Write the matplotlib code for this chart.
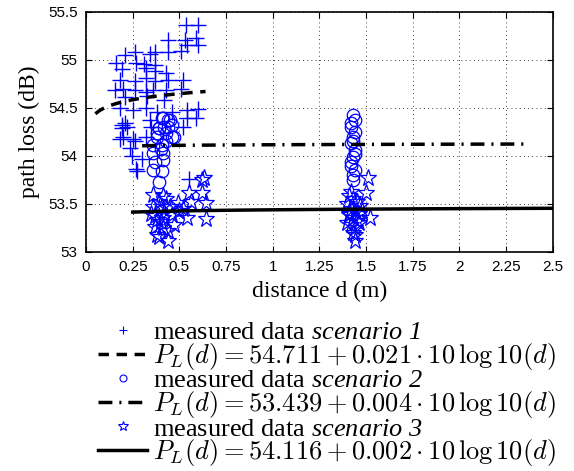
import numpy as np
import matplotlib
matplotlib.use("Agg")
import matplotlib.pyplot as plt
from matplotlib.lines import Line2D

plt.rcParams['font.family'] = ['Liberation Sans', 'DejaVu Sans']
plt.rcParams['mathtext.fontset'] = 'custom'
plt.rcParams['mathtext.rm'] = 'Liberation Serif:italic'
plt.rcParams['mathtext.it'] = 'Liberation Serif:italic'

# scenario 1 (plus markers)
d1 = [0.535, 0.598, 0.44, 0.53, 0.59, 0.54, 0.60, 0.51, 0.44, 0.21, 0.26, 0.34, 0.37,
      0.27, 0.31, 0.32, 0.37, 0.16, 0.19, 0.18, 0.26, 0.32, 0.37, 0.43, 0.44, 0.52,
      0.155, 0.20, 0.26, 0.32, 0.36, 0.43, 0.51, 0.21, 0.325,
      0.54, 0.60, 0.54, 0.59, 0.52, 0.19, 0.22, 0.20,
      0.18, 0.25, 0.32, 0.38, 0.46, 0.21, 0.19, 0.34, 0.35, 0.18, 0.25, 0.32,
      0.235, 0.245, 0.30, 0.27, 0.26, 0.275, 0.55, 0.37, 0.42]
pl1 = [55.36, 55.36, 55.21, 55.21, 55.23, 55.15, 55.15, 55.09, 55.08, 55.05, 55.08, 55.06, 55.08,
       54.97, 54.96, 54.91, 54.95, 54.97, 54.90, 54.79, 54.78, 54.81, 54.78, 54.86, 54.79, 54.79,
       54.69, 54.70, 54.69, 54.67, 54.69, 54.69, 54.70, 54.61, 54.62,
       54.48, 54.49, 54.39, 54.39, 54.30, 54.32, 54.30, 54.20,
       54.50, 54.48, 54.50, 54.46, 54.46, 54.34, 54.29, 54.375, 54.30, 54.18, 54.18, 54.20,
       54.08, 54.00, 53.97, 53.86, 54.15, 53.84, 53.76, 54.88, 54.58]

# scenario 2 (circle markers)
d2 = [0.405, 0.44, 0.39, 0.42, 0.46, 0.38, 0.43, 0.47, 0.41, 0.45, 0.39, 0.44, 0.46,
      0.38, 0.36, 0.405, 0.36, 0.41, 0.37, 0.41, 0.36, 0.405, 0.39, 0.43, 0.40,
      1.43, 1.44, 1.42, 1.44, 1.43, 1.42, 1.44, 1.43, 1.42, 1.44, 1.43, 1.42, 1.43,
      1.44, 1.42, 1.43]
pl2 = [54.39, 54.375, 54.29, 54.30, 54.32, 54.24, 54.24, 54.20, 54.39, 54.37, 54.29, 54.30, 54.20,
       54.20, 54.11, 54.11, 54.03, 54.03, 53.94, 53.96, 53.85, 53.84, 53.73, 54.15, 54.07,
       54.43, 54.375, 54.30, 54.25, 54.20, 54.13, 54.06, 53.99, 53.94, 53.85, 53.75, 54.34,
       54.16, 54.02, 53.90, 53.80]

# scenario 3 (star markers)
d3 = [0.62, 0.62, 0.64, 0.55, 0.56, 0.54, 0.64, 0.49, 0.47, 0.36, 0.41, 0.36, 0.405,
      0.45, 0.37, 0.41, 0.37, 0.41, 0.39, 0.44, 0.63, 0.38, 0.42, 0.50, 0.39, 0.43,
      0.35, 0.40, 0.46, 0.52, 0.38, 0.44,
      1.51, 1.50, 1.52, 1.44, 1.41, 1.43, 1.45, 1.47, 1.40, 1.42, 1.44, 1.46, 1.41,
      1.43, 1.45, 1.48, 1.42, 1.44, 1.40, 1.43, 1.46, 1.41, 1.44, 1.42]
pl3 = [53.75, 53.61, 53.51, 53.61, 53.52, 53.35, 53.34, 53.51, 53.28, 53.59, 53.58, 53.47, 53.47,
       53.47, 53.37, 53.35, 53.26, 53.25, 53.16, 53.11, 53.77, 53.18, 53.41, 53.43, 53.52, 53.55,
       53.40, 53.31, 53.38, 53.45, 53.33, 53.22,
       53.77, 53.61, 53.35, 53.11, 53.58, 53.55, 53.52, 53.48, 53.50, 53.45, 53.42, 53.40, 53.38,
       53.35, 53.32, 53.43, 53.28, 53.25, 53.30, 53.20, 53.30, 53.40, 53.18, 53.62]

# fitted models: (PL0, n, d_start, d_end) as drawn
fit_dashed = (54.711, 0.021, 0.05, 0.64)
fit_dashdot = (54.116, 0.002, 0.30, 2.35)
fit_solid = (53.439, 0.004, 0.25, 2.50)

labels = [r'measured data $\mathrm{scenario\ 1}$',
          r'$P_L(d) = 54.711 + 0.021 \cdot 10\,\log 10(d)$',
          r'measured data $\mathrm{scenario\ 2}$',
          r'$P_L(d) = 53.439 + 0.004 \cdot 10\,\log 10(d)$',
          r'measured data $\mathrm{scenario\ 3}$',
          r'$P_L(d) = 54.116 + 0.002 \cdot 10\,\log 10(d)$']

DASHED = (0, (3, 2.2))
DASHDOT = (0, (4, 2, 0.6, 2))

fig = plt.figure(figsize=(5.74, 4.71), dpi=100)
ax = fig.add_axes([0.150, 0.465, 0.813, 0.510])

ax.plot(d1, pl1, '+', color='blue', ms=11, mew=1.0)
ax.plot(d2, pl2, 'o', color='blue', mfc='none', ms=9, mew=0.9)
ax.plot(d3, pl3, '*', color='blue', mfc='none', ms=12.5, mew=0.9)


def fit_line(p):
    d = np.linspace(p[2], p[3], 100)
    return d, p[0] + p[1] * 10 * np.log10(d)


x, y = fit_line(fit_dashed)
ax.plot(x, y, color='black', lw=2.5, ls=DASHED)
x, y = fit_line(fit_dashdot)
ax.plot(x, y, color='black', lw=2.5, ls=DASHDOT)
x, y = fit_line(fit_solid)
ax.plot(x, y, color='black', lw=2.5)

ax.set_xlim(0, 2.5)
ax.set_ylim(53, 55.5)
ax.set_xticks(np.arange(0, 2.51, 0.25))
ax.set_xticklabels(['0', '0.25', '0.5', '0.75', '1', '1.25', '1.5', '1.75', '2', '2.25', '2.5'])
ax.set_yticks(np.arange(53, 55.51, 0.5))
ax.set_yticklabels(['53', '53.5', '54', '54.5', '55', '55.5'])
ax.tick_params(direction='in', top=True, right=True, labelsize=11, length=4, pad=6)
ax.grid(True, color='black', ls=(0, (1, 4)), lw=0.6)
for s in ax.spines.values():
    s.set_linewidth(1.2)

ax.set_xlabel('distance d (m)', fontsize=17, family='Liberation Serif', labelpad=5)
ax.set_ylabel('path loss (dB)', fontsize=17, family='Liberation Serif', labelpad=6)

handles = [
    Line2D([], [], ls='none', marker='+', color='blue', ms=6, mew=0.8),
    Line2D([], [], color='black', lw=2.5, ls=DASHED),
    Line2D([], [], ls='none', marker='o', color='blue', mfc='none', ms=5, mew=0.8),
    Line2D([], [], color='black', lw=2.5, ls=DASHDOT),
    Line2D([], [], ls='none', marker='*', color='blue', mfc='none', ms=7, mew=0.8),
    Line2D([], [], color='black', lw=2.5),
]
leg = fig.legend(handles, labels, loc='upper left', bbox_to_anchor=(0.148, 0.347),
                 frameon=False, fontsize=19, handlelength=1.85, handletextpad=0.22,
                 labelspacing=-0.12, borderpad=0)
for i, t in enumerate(leg.get_texts()):
    t.set_family('Liberation Serif')
    if i % 2 == 1:
        t.set_math_fontfamily('cm')

fig.savefig('out.png', dpi=100)
